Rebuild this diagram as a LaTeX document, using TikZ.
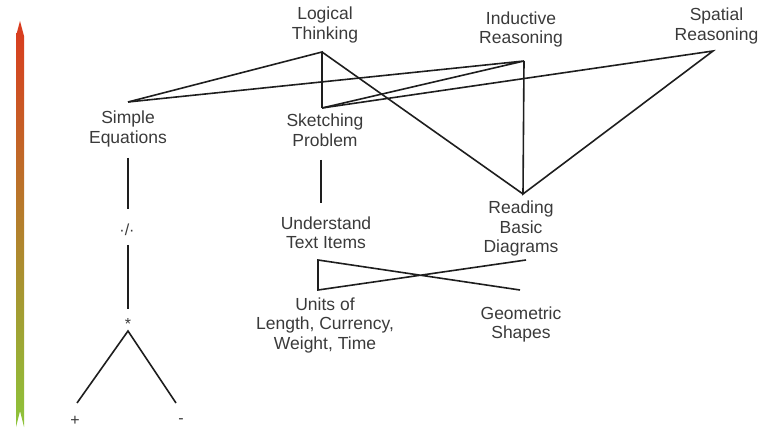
\documentclass[tikz,border=0pt]{standalone}
\usepackage{fontspec}
\setmainfont{Liberation Sans}
\begin{document}
\begin{tikzpicture}[x=1pt,y=-1pt,
  lbl/.style={align=center,inner sep=0pt,text=txtgray,
    font=\fontsize{17.5}{19.5}\selectfont},
  sym/.style={inner sep=0pt,text=txtgray,font=\fontsize{16}{18}\selectfont},
  link/.style={draw=linegray,line width=1.6pt,line join=miter}]
\definecolor{txtgray}{HTML}{3A3A3A}
\definecolor{linegray}{HTML}{1E1E1E}
\definecolor{arrtop}{HTML}{DA3A1E}
\definecolor{arrmid}{HTML}{B9782C}
\definecolor{arrbot}{HTML}{8DC43A}
\useasboundingbox (0,0) rectangle (758,430);

% scale arrow on the left
\shade[top color=arrtop,middle color=arrmid,bottom color=arrbot]
  (20,21) -- (24,36) -- (24,427) -- (20,411) -- (16,427) -- (16,36) -- cycle;

% labels
\node[lbl] (lt) at (325,25)    {Logical\\Thinking};
\node[lbl] (ir) at (521,29.5)  {Inductive\\Reasoning};
\node[lbl] (sr) at (716.5,26)  {Spatial\\Reasoning};
\node[lbl] (se) at (128,129)   {Simple\\Equations};
\node[lbl] (sp) at (325,130)   {Sketching\\Problem};
\node[lbl] (ut) at (326,232.5) {Understand\\Text Items};
\node[lbl] (rb) at (521,228.5) {Reading\\Basic\\Diagrams};
\node[lbl] (un) at (325,325)   {Units of\\Length, Currency,\\Weight, Time};
\node[lbl] (gs) at (521,324.5) {Geometric\\Shapes};
\node[sym] (dv) at (127,230)   {·/·};
\node[sym] (mu) at (128,324)   {*};
\node[sym] (pl) at (75,421)    {+};
\node[sym] (mi) at (181,421)   {-};

% connector end points
\coordinate (lt-a) at (322,52);
\coordinate (ir-a) at (524,61);
\coordinate (sr-a) at (713,51);
\coordinate (se-a) at (128,102);
\coordinate (sp-a) at (322,108);
\coordinate (rb-a) at (523,194);
\coordinate (rb-b) at (526,260);
\coordinate (ut-a) at (318,260);
\coordinate (un-a) at (318,290);
\coordinate (gs-a) at (520,290);
\coordinate (sp-b) at (321,160);
\coordinate (ut-b) at (321,203);
\coordinate (se-b) at (128,158);
\coordinate (dv-t) at (128,209);
\coordinate (dv-b) at (128,245);
\coordinate (mu-t) at (128,309);
\coordinate (mu-a) at (128,331);
\coordinate (pl-a) at (77,403);
\coordinate (mi-a) at (176,403);

% upper network
\draw[link] (se-a) -- (lt-a) -- (sp-a);
\draw[link] (lt-a) -- (rb-a);
\draw[link] (se-a) -- (ir-a) -- (sp-a);
\draw[link] (ir-a) -- (rb-a) -- (sr-a) -- (sp-a);

% lower crossing
\draw[link] (gs-a) -- (ut-a) -- (un-a) -- (rb-b);
\draw[link] (sp-b) -- (ut-b);

% operator chain
\draw[link] (se-b) -- (dv-t);
\draw[link] (dv-b) -- (mu-t);
\draw[link] (pl-a) -- (mu-a) -- (mi-a);
\end{tikzpicture}
\end{document}
